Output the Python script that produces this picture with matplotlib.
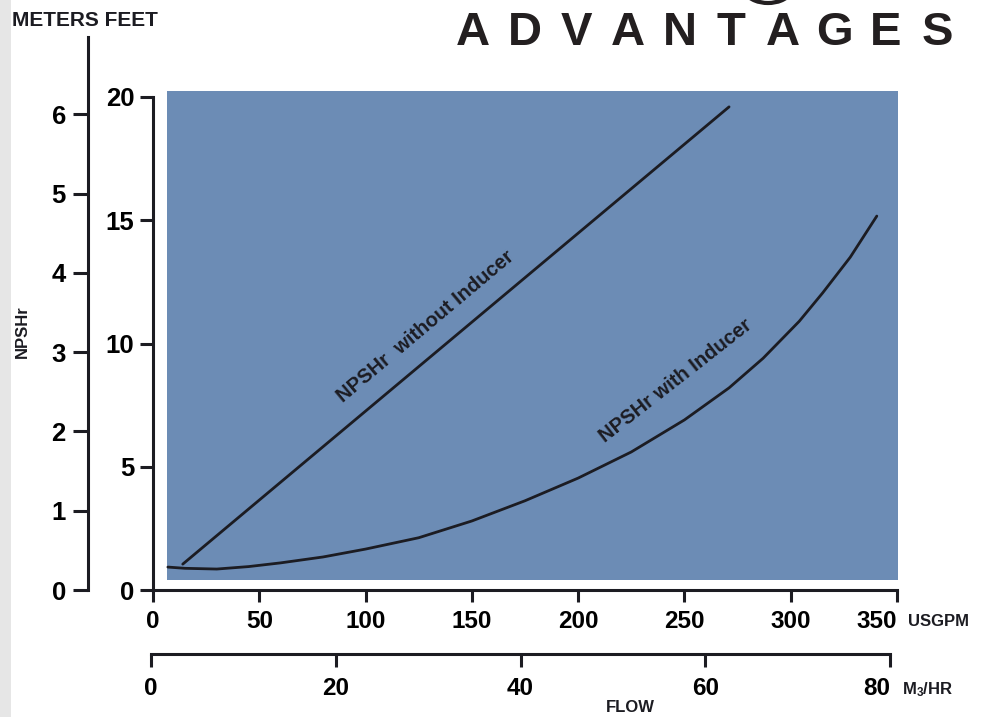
import numpy as np
import matplotlib
matplotlib.use("Agg")
import matplotlib.pyplot as plt
from matplotlib.patches import Rectangle, Arc

plt.rcParams['font.family'] = ['Liberation Sans', 'DejaVu Sans']
plt.rcParams['font.weight'] = 'bold'
plt.rcParams['mathtext.default'] = 'regular'

# NPSHr curves, flow in USGPM, NPSHr in feet
flow_without = [14, 271]
npsh_without = [1.05, 19.6]

flow_with = [7, 15, 30, 45, 60, 80, 100, 125, 150, 175, 200, 225, 250, 271, 287, 304, 315, 328, 340.5]
npsh_with = [0.93, 0.88, 0.85, 0.95, 1.10, 1.34, 1.66, 2.12, 2.80, 3.62, 4.54, 5.60, 6.90, 8.2, 9.4, 10.9, 12.05, 13.5, 15.17]

feet_ticks = [0, 5, 10, 15, 20]
meter_ticks = [0, 1, 2, 3, 4, 5, 6]
usgpm_ticks = [0, 50, 100, 150, 200, 250, 300, 350]
m3hr_ticks = [0, 20, 40, 60, 80]

W, H = 1000, 717
fig = plt.figure(figsize=(10, 7.17), dpi=100)
fig.patch.set_facecolor('white')
fig.patches.append(Rectangle((0, 0), 0.011, 1, transform=fig.transFigure,
                             facecolor='#e6e6e6', edgecolor='none', zorder=0))

ink = '#1c1c22'
blue = '#6c8cb5'
lw = 2.2

# main axes: feet vs USGPM
ax = fig.add_axes([153 / W, 1 - 590 / H, 744 / W, 493 / H])
ax.set_xlim(0, 350)
ax.set_ylim(0, 20)
ax.set_facecolor('none')
ax.add_patch(Rectangle((6.6, 0.4), 343.8, 19.85, facecolor=blue, edgecolor='none',
                       clip_on=False, zorder=0))
ax.plot(flow_without, npsh_without, color=ink, lw=2.0, solid_capstyle='round', clip_on=False)
ax.plot(flow_with, npsh_with, color=ink, lw=2.0, solid_capstyle='round',
        solid_joinstyle='round', clip_on=False)

for s in ['top', 'right']:
    ax.spines[s].set_visible(False)
ax.spines['left'].set_bounds(0, 20)
ax.spines['bottom'].set_bounds(0, 350)
for s in ['left', 'bottom']:
    ax.spines[s].set_linewidth(lw)
    ax.spines[s].set_color(ink)
ax.set_yticks(feet_ticks)
ax.set_xticks(usgpm_ticks)
ax.tick_params(axis='y', direction='out', length=9.5, width=lw, color=ink, pad=4, labelsize=18.5)
ax.tick_params(axis='x', direction='out', length=8.6, width=lw, color=ink, pad=6, labelsize=17.5)
ax.get_xticklabels()[-1].set_ha('right')
ax.get_xticklabels()[-1].set_x(352)

ax.text(128.4, 10.7, 'NPSHr  without Inducer', rotation=40, rotation_mode='anchor',
        ha='center', va='center', fontsize=14.5, color=ink)
ax.text(246, 8.5, 'NPSHr with Inducer', rotation=38, rotation_mode='anchor',
        ha='center', va='center', fontsize=14.5, color=ink)

# meters axis
axm = fig.add_axes([88 / W, 1 - 590 / H, 0.0001, 553 / H])
axm.set_ylim(0, 553 / 79.3)
axm.set_xticks([])
axm.patch.set_visible(False)
for s in ['top', 'right', 'bottom']:
    axm.spines[s].set_visible(False)
axm.spines['left'].set_linewidth(lw)
axm.spines['left'].set_color(ink)
axm.set_yticks(meter_ticks)
axm.tick_params(axis='y', direction='out', length=11, width=lw, color=ink, pad=5, labelsize=18.5)

# M3/HR axis
axq = fig.add_axes([151 / W, 1 - 654 / H, 739 / W, 0.0001])
axq.set_xlim(0, 80)
axq.set_yticks([])
axq.patch.set_visible(False)
for s in ['top', 'right', 'left']:
    axq.spines[s].set_visible(False)
axq.spines['bottom'].set_linewidth(lw)
axq.spines['bottom'].set_color(ink)
axq.set_xticks(m3hr_ticks)
axq.tick_params(axis='x', direction='out', length=9.4, width=lw, color=ink, pad=7, labelsize=17.5)
axq.get_xticklabels()[-1].set_ha('right')
axq.get_xticklabels()[-1].set_x(80.2)

# labels
fig.text(908 / W, 1 - 622 / H, 'USGPM', fontsize=12, ha='left', va='center', color=ink)
fig.text(902 / W, 1 - 690 / H, r'M$_3$/HR', fontsize=12, ha='left', va='center', color=ink)
fig.text(630 / W, 1 - 708 / H, 'FLOW', fontsize=12, ha='center', va='center', color=ink)
fig.text(22 / W, 1 - 332 / H, 'NPSHr', fontsize=12, rotation=90, ha='center', va='center', color=ink)
fig.text(12 / W, 1 - 20 / H, 'METERS FEET', fontsize=15, ha='left', va='center', color=ink)

letters = list('ADVANTAGES')
for i, ch in enumerate(letters):
    fig.text((473 + i * 51.6) / W, 1 - 33 / H, ch, fontsize=34, ha='center', va='center', color='#231f20')

fig.patches.append(Arc((768 / W, 1 + 12 / H), 48 / W, 30 / H, theta1=200, theta2=340,
                       transform=fig.transFigure, color='#231f20', lw=3))

fig.savefig('out.png', dpi=100)
